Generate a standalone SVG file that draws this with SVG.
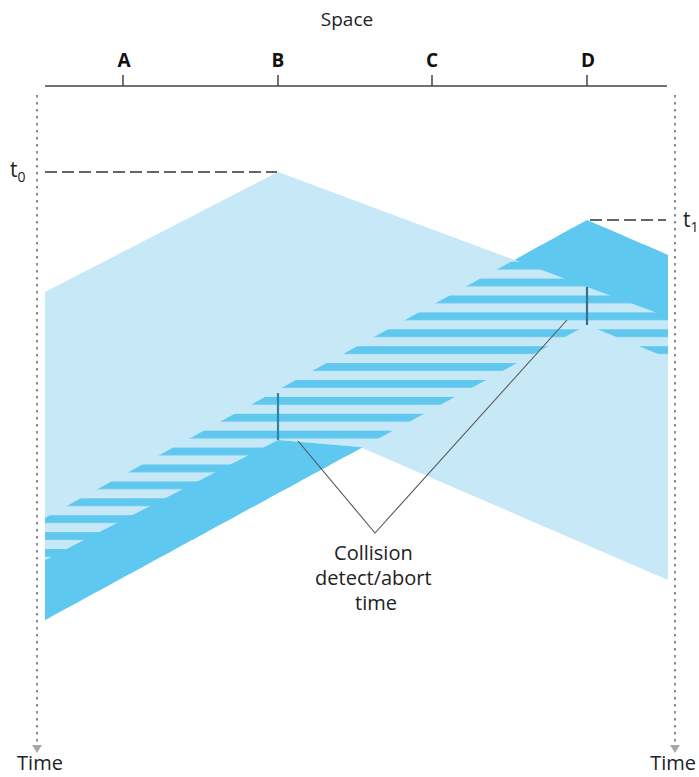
<svg xmlns="http://www.w3.org/2000/svg" width="699" height="777" viewBox="0 0 699 777">
<style>
  .lbl{font-family:"Open Sans","Noto Sans",sans-serif;fill:#222;}
  .st{font-family:"Open Sans","Noto Sans",sans-serif;font-weight:bold;font-size:19px;fill:#111;text-anchor:middle;}
  .axis{stroke:#444;stroke-width:1.5;fill:none;}
  .dots{stroke:#8c8c8c;stroke-width:2;stroke-dasharray:2.5 4.5;fill:none;}
  .dash{stroke:#333;stroke-width:1.5;stroke-dasharray:12 5;fill:none;}
  .arrow{fill:#a8a8a8;}
  .tick{stroke-width:2.2;fill:none;}
  .callout{stroke:#555;stroke-width:1.1;fill:none;}
</style>
<defs>
  <pattern id="stripes" patternUnits="userSpaceOnUse" x="0" y="8.2" width="700" height="16.9">
    <rect x="0" y="0" width="700" height="7.8" fill="#60c8ef"/>
  </pattern>
  <mask id="notB" maskUnits="userSpaceOnUse" x="0" y="0" width="699" height="777">
    <rect x="0" y="0" width="699" height="777" fill="#fff"/>
    <polygon points="45,292 278,172 587,287 668,317 668,580 360,447 278,440 45,560" fill="#000"/>
  </mask>
</defs>
<rect x="0" y="0" width="699" height="777" fill="#fff"/>

<g id="space-label">
  <text class="lbl" x="347" y="26" font-size="19" text-anchor="middle">Space</text>
</g>

<g id="space-axis">
  <line class="axis" x1="45" y1="86" x2="667" y2="86"/>
</g>

<g id="station-A">
  <line class="axis" x1="123" y1="75" x2="123" y2="86"/>
  <text class="st" x="124" y="67">A</text>
</g>
<g id="station-B">
  <line class="axis" x1="278" y1="75" x2="278" y2="86"/>
  <text class="st" x="278" y="67">B</text>
</g>
<g id="station-C">
  <line class="axis" x1="432" y1="75" x2="432" y2="86"/>
  <text class="st" x="432" y="67">C</text>
</g>
<g id="station-D">
  <line class="axis" x1="587" y1="75" x2="587" y2="86"/>
  <text class="st" x="588" y="67">D</text>
</g>

<g id="transmission-B">
  <polygon points="45,292 278,172 587,287 668,317 668,580 360,447 278,440 45,560" fill="#c6e8f7"/>
</g>

<g id="transmission-D">
  <polygon points="45,518 587,220 668,255 668,358 587,325 45,620" fill="url(#stripes)"/>
  <polygon points="45,518 587,220 668,255 668,358 587,325 45,620" fill="#5ec8f0" mask="url(#notB)"/>
</g>

<g id="time-axis-left">
  <line class="dots" x1="37" y1="95" x2="37" y2="744"/>
  <polygon class="arrow" points="32,745 42,745 37,753"/>
  <text class="lbl" x="40" y="770" font-size="20" text-anchor="middle">Time</text>
</g>
<g id="time-axis-right">
  <line class="dots" x1="675" y1="95" x2="675" y2="744"/>
  <polygon class="arrow" points="670,745 680,745 675,753"/>
  <text class="lbl" x="696" y="770" font-size="20" text-anchor="end">Time</text>
</g>

<g id="t0">
  <line class="dash" x1="45" y1="172" x2="277" y2="172"/>
  <text class="lbl" x="10" y="177" font-size="21">t<tspan font-size="14" dy="5">0</tspan></text>
</g>
<g id="t1">
  <line class="dash" x1="590" y1="220" x2="666" y2="220"/>
  <text class="lbl" x="683" y="227" font-size="21">t<tspan font-size="14" dy="5">1</tspan></text>
</g>

<g id="connectors">
  <line class="tick" x1="278" y1="393" x2="278" y2="440" stroke="#2f82a8"/>
  <line class="tick" x1="587" y1="287" x2="587" y2="325" stroke="#3b6f88"/>
  <polyline class="callout" points="298,441 375,533 567,320"/>
</g>

<g id="collision-label">
  <text class="lbl" font-size="20" text-anchor="middle">
    <tspan x="376" y="560">Collision</tspan>
    <tspan x="376" y="585">detect/abort</tspan>
    <tspan x="376" y="610">time</tspan>
  </text>
</g>
</svg>
